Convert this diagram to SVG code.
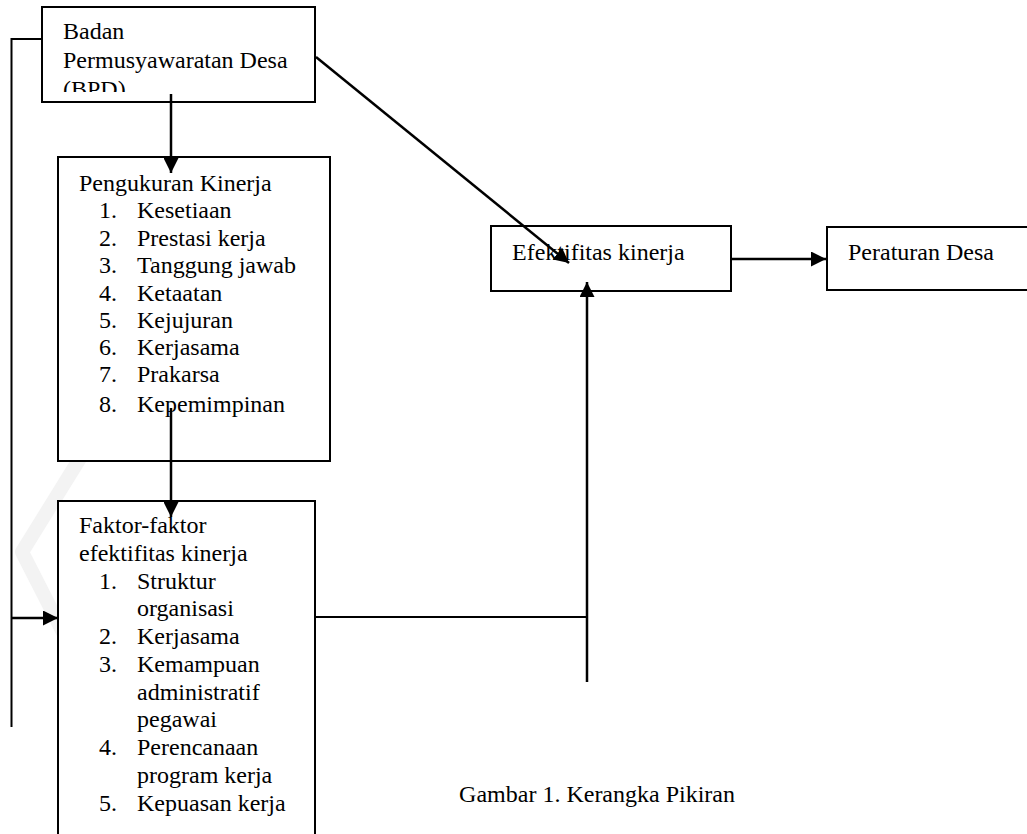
<svg xmlns="http://www.w3.org/2000/svg" width="1027" height="834" viewBox="0 0 1027 834">
<style>
.box{fill:#fff;stroke:#000;stroke-width:2}
.t{font-family:"Liberation Serif","Times New Roman",serif;font-size:24px;fill:#000}
.ln{fill:none;stroke:#000;stroke-width:2}
.ar{fill:none;stroke:#000;stroke-width:2.5}
</style>
<defs>
<marker id="ah" markerUnits="userSpaceOnUse" markerWidth="16" markerHeight="15" refX="15" refY="7.5" orient="auto">
<path d="M0,0 L15,7.5 L0,15 Z" fill="#000"/>
</marker>
<clipPath id="bpdclip"><rect x="42" y="7" width="273" height="85"/></clipPath>
</defs>
<rect width="1027" height="834" fill="#fff"/>
<path d="M82,455 L22,552 L72,650" fill="none" stroke="#f3f3f3" stroke-width="14" stroke-linecap="round" stroke-linejoin="round"/>
<g id="bpd">
<rect class="box" x="42" y="7" width="273" height="95"/>
<g clip-path="url(#bpdclip)">
<text class="t" x="63" y="39">Badan</text>
<text class="t" x="63" y="68">Permusyawaratan Desa</text>
<text class="t" x="63" y="97">(BPD)</text>
</g>
</g>
<g id="pengukuran">
<rect class="box" x="58" y="157" width="272" height="304"/>
<text class="t" x="79" y="191">Pengukuran Kinerja</text>
<text class="t" x="99" y="218">1.</text><text class="t" x="137" y="218">Kesetiaan</text>
<text class="t" x="99" y="246">2.</text><text class="t" x="137" y="246">Prestasi kerja</text>
<text class="t" x="99" y="273">3.</text><text class="t" x="137" y="273">Tanggung jawab</text>
<text class="t" x="99" y="301">4.</text><text class="t" x="137" y="301">Ketaatan</text>
<text class="t" x="99" y="328">5.</text><text class="t" x="137" y="328">Kejujuran</text>
<text class="t" x="99" y="355">6.</text><text class="t" x="137" y="355">Kerjasama</text>
<text class="t" x="99" y="382">7.</text><text class="t" x="137" y="382">Prakarsa</text>
<text class="t" x="99" y="412">8.</text><text class="t" x="137" y="412">Kepemimpinan</text>
</g>
<g id="faktor">
<rect class="box" x="58" y="501" width="257" height="345"/>
<text class="t" x="79" y="533">Faktor-faktor</text>
<text class="t" x="79" y="561">efektifitas kinerja</text>
<text class="t" x="99" y="589">1.</text><text class="t" x="137" y="589">Struktur</text>
<text class="t" x="137" y="616">organisasi</text>
<text class="t" x="99" y="644">2.</text><text class="t" x="137" y="644">Kerjasama</text>
<text class="t" x="99" y="672">3.</text><text class="t" x="137" y="672">Kemampuan</text>
<text class="t" x="137" y="700">administratif</text>
<text class="t" x="137" y="727">pegawai</text>
<text class="t" x="99" y="755">4.</text><text class="t" x="137" y="755">Perencanaan</text>
<text class="t" x="137" y="783">program kerja</text>
<text class="t" x="99" y="811">5.</text><text class="t" x="137" y="811">Kepuasan kerja</text>
</g>
<g id="efektifitas">
<rect class="box" x="491" y="226" width="240" height="65"/>
<text class="t" x="512" y="260">Efektifitas kinerja</text>
</g>
<g id="peraturan">
<rect class="box" x="827" y="227" width="210" height="63"/>
<text class="t" x="848" y="260">Peraturan Desa</text>
</g>
<g id="connectors">
<path class="ar" d="M171,94 V173" marker-end="url(#ah)"/>
<path class="ar" d="M171,408 V517" marker-end="url(#ah)"/>
<path class="ln" d="M42,39 H11.5 V727"/>
<path class="ar" d="M11.5,618 H58" marker-end="url(#ah)"/>
<path class="ar" d="M316,57 L569,263" marker-end="url(#ah)"/>
<path class="ln" d="M315,617 H587"/>
<path class="ar" d="M587,682 V282" marker-end="url(#ah)"/>
<path class="ar" d="M731,259 H826" marker-end="url(#ah)"/>
</g>
<text class="t" x="735" y="802" text-anchor="end">Gambar 1. Kerangka Pikiran</text>
</svg>
